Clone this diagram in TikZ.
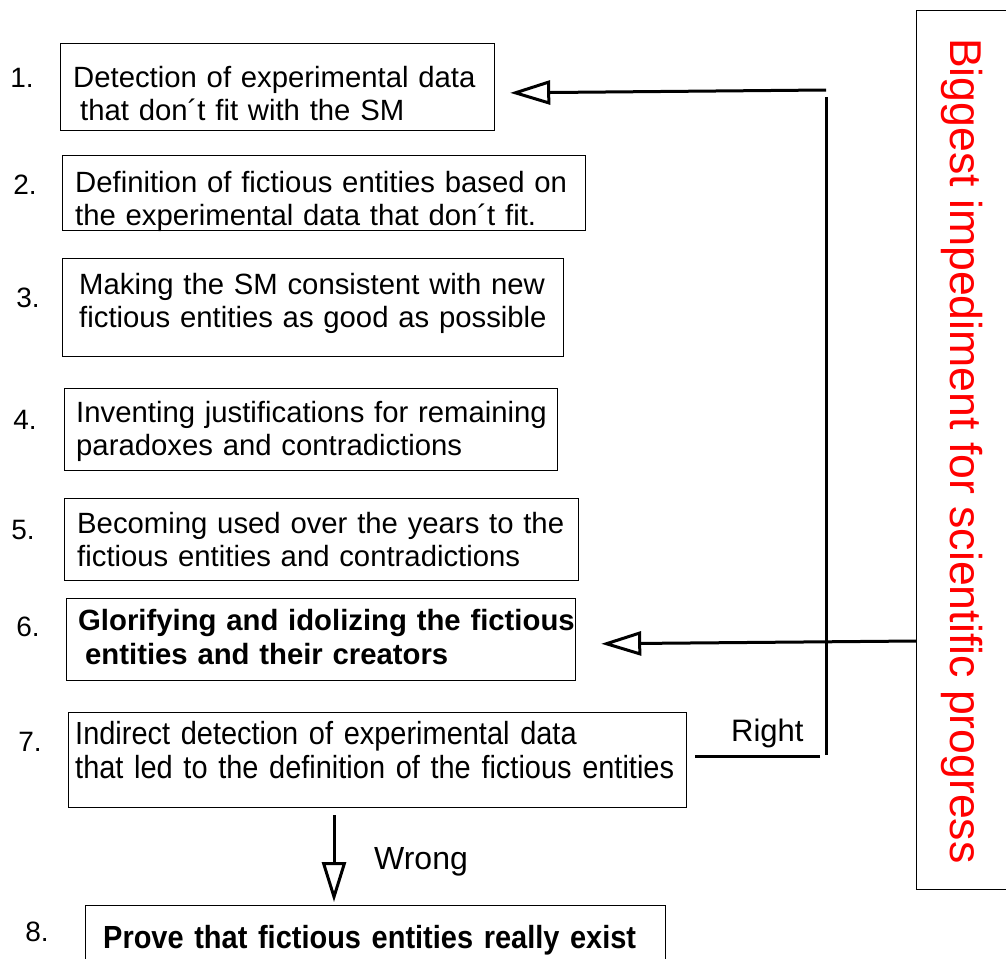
\documentclass[tikz,border=0pt]{standalone}
\usepackage{fontspec}
\setmainfont{Liberation Sans}
\newfontfamily\condfont{Liberation Sans}[FakeStretch=0.905]
\usetikzlibrary{arrows.meta}
\begin{document}
\begin{tikzpicture}[x=1pt,y=-1pt,
  box/.style={draw, line width=1.2pt, inner sep=0pt, anchor=north west},
  txt/.style={anchor=base west, text width=640pt, align=left, inner sep=0pt,
              font=\fontsize{29.3}{33}\selectfont},
  ctxt/.style={anchor=base west, text width=640pt, align=left, inner sep=0pt,
              font=\condfont\fontsize{32}{34}\selectfont},
  num/.style={anchor=center, inner sep=0pt, font=\fontsize{28}{30}\selectfont},
  lbl/.style={anchor=base west, inner sep=0pt, font=\fontsize{31}{33}\selectfont},
  arr/.style={line width=3pt, -{Triangle[open, length=40pt, width=24pt, line width=3pt]}},
  ln/.style={line width=3pt}]
\useasboundingbox (0,0) rectangle (1006,958);
\clip (0,0) rectangle (1006,958);
% boxes
\node[box, minimum width=434pt, minimum height=87pt] (b1) at (60,43) {};
\node[box, minimum width=523pt, minimum height=75pt] (b2) at (62,155) {};
\node[box, minimum width=501pt, minimum height=98pt] (b3) at (62,258) {};
\node[box, minimum width=493pt, minimum height=82pt] (b4) at (64,388) {};
\node[box, minimum width=514pt, minimum height=82pt] (b5) at (64,498) {};
\node[box, minimum width=509pt, minimum height=82pt] (b6) at (66,598) {};
\node[box, minimum width=618pt, minimum height=95pt] (b7) at (68,712) {};
\node[box, minimum width=580pt, minimum height=80pt] (b8) at (85,905) {};
\node[box, minimum width=110pt, minimum height=879pt] (R) at (916,10) {};
% texts
\node[txt] (t1) at (73,87) {Detection of experimental data\\\hspace*{7pt}that don\textasciiacute t fit with the SM};
\node[txt] (t2) at (75,192) {Definition of fictious entities based on\\the experimental data that don\textasciiacute t fit.};
\node[txt] (t3) at (79,294) {Making the SM consistent with new\\fictious entities as good as possible};
\node[txt] (t4) at (76,422) {Inventing justifications for remaining\\paradoxes and contradictions};
\node[txt] (t5) at (77,533) {Becoming used over the years to the\\fictious entities and contradictions};
\node[txt, font=\bfseries\fontsize{29.3}{34}\selectfont] (t6) at (78,630) {Glorifying and idolizing the fictious\\\hspace*{7pt}entities and their creators};
\node[ctxt] (t7) at (75,744) {Indirect detection of experimental data\\that led to the definition of the fictious entities};
\node[ctxt, font=\condfont\bfseries\fontsize{32}{34}\selectfont] (t8) at (103,948) {Prove that fictious entities really exist};
% numbers
\node[num] (n1) at (22,78) {1.};
\node[num] (n2) at (25,185) {2.};
\node[num] (n3) at (28,298) {3.};
\node[num] (n4) at (25,420) {4.};
\node[num] (n5) at (23,530) {5.};
\node[num] (n6) at (28,627) {6.};
\node[num] (n7) at (30,742) {7.};
\node[num] (n8) at (37,932) {8.};
% vertical red text
\node[anchor=base west, rotate=-90, inner sep=0pt, text=red,
      font=\fontsize{44.6}{48}\selectfont] (big) at (950,38) {Biggest impediment for scientific progress};
% labels
\node[lbl] (right) at (731,741) {Right};
\node[lbl, font=\fontsize{32}{34}\selectfont] (wrong) at (374,869) {Wrong};
% connectors
\coordinate (c1) at (826,90);
\coordinate (v1) at (826,97);
\coordinate (v2) at (826,755);
\coordinate (r1) at (820,756);
\coordinate (c6) at (916,641);
\coordinate (d1) at (334,815);
\draw[arr, shorten >=15pt] (c1) -- (b1.east |- 0,93);
\draw[ln] (v1) -- (v2);
\draw[ln, shorten >=8pt] (r1) -- (b7.east |- r1);
\draw[arr, shorten >=25pt] (c6) -- (b6.east |- 0,644);
\draw[arr, shorten >=3pt] (d1) -- (d1 |- b8.north);
\end{tikzpicture}
\end{document}
